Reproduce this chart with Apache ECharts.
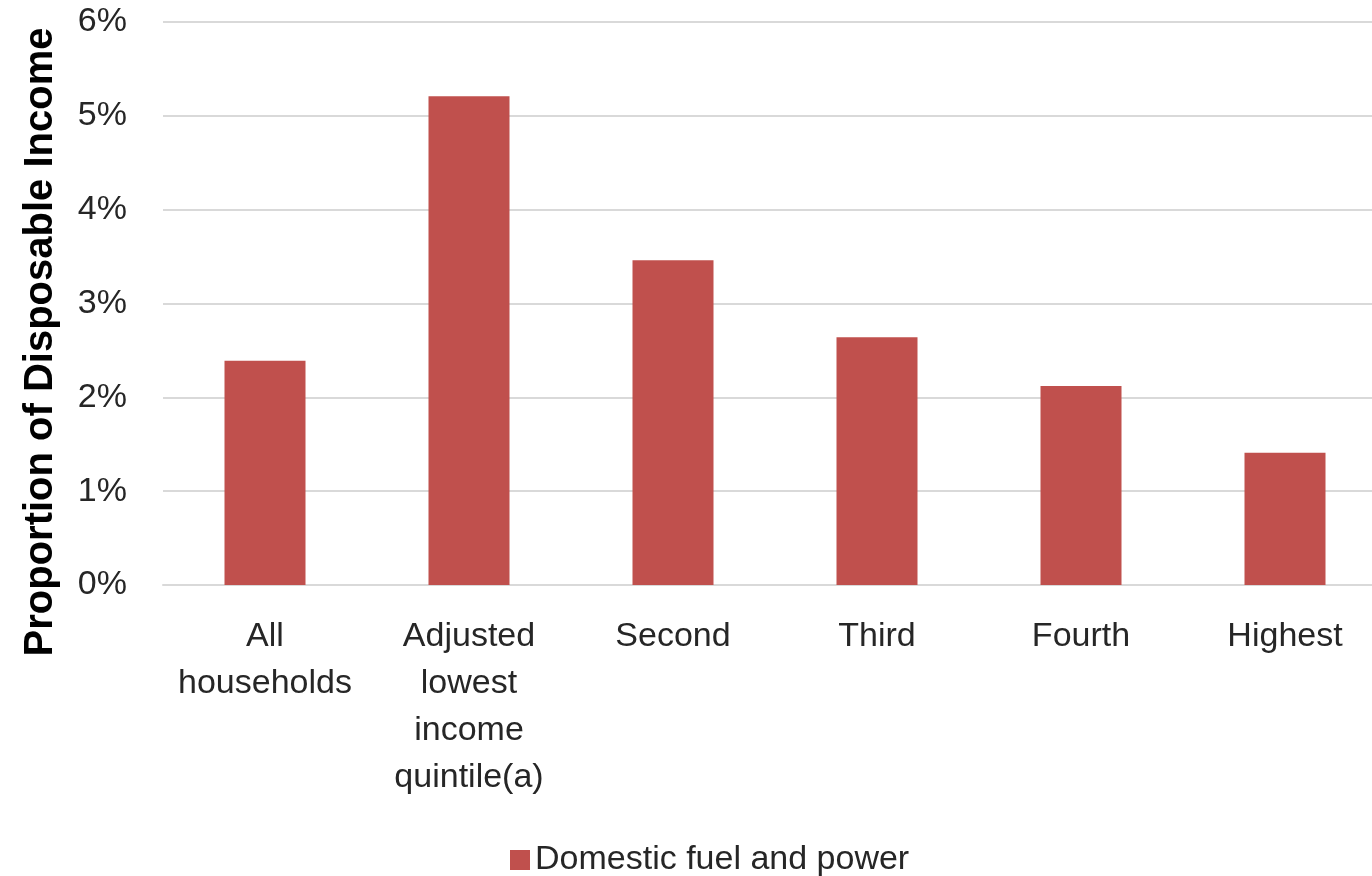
<!DOCTYPE html>
<html lang="en">
<head>
    <meta charset="UTF-8">
    <title>Domestic fuel and power</title>
    <style>
        html,body{margin:0;padding:0;background:#fff;overflow:hidden;}
        #main{width:1387px;height:876px;}
    </style>
</head>
<body>
<div id="main"></div>
<script src="https://cdn.jsdelivr.net/npm/echarts@6/dist/echarts.min.js"></script>
<script>
    const categories=['All\nhouseholds','Adjusted\nlowest\nincome\nquintile(a)','Second','Third','Fourth','Highest']
    const values=[2.39,5.21,3.46,2.64,2.12,1.41]
    const seriesName='Domestic fuel and power'
    const axisTitle='Proportion of Disposable Income'

    const myChart=echarts.init(document.getElementById('main'))
    const font='"Liberation Sans", Arial, sans-serif'

    // chart is a bit wider than the window: the last category runs off the right edge
    const option={
        animation:false,
        grid:{left:163,right:0,top:22,bottom:291},
        legend:{
            left:505,
            top:838,
            itemWidth:20,
            itemHeight:20,
            itemGap:10,
            icon:'rect',
            textStyle:{fontFamily:font,fontSize:34,color:'#262626'},
            data:[seriesName]
        },
        graphic:[{
            type:'text',
            x:41,
            y:342,
            rotation:Math.PI/2,
            style:{
                text:axisTitle,
                fontFamily:font,
                fontSize:40,
                fontWeight:'bold',
                fill:'#000',
                textAlign:'center',
                textVerticalAlign:'middle'
            }
        }],
        xAxis:{
            type:'category',
            data:categories,
            axisLine:{lineStyle:{color:'#d9d9d9',width:2}},
            axisTick:{show:false},
            axisLabel:{
                interval:0,
                margin:28,
                fontFamily:font,
                fontSize:34,
                lineHeight:47,
                color:'#262626'
            }
        },
        yAxis:{
            type:'value',
            min:0,
            max:6,
            interval:1,
            axisLine:{show:false},
            axisTick:{show:false},
            splitLine:{lineStyle:{color:'#d9d9d9',width:2}},
            axisLabel:{
                margin:36,
                padding:[8,0,0,0],
                fontFamily:font,
                fontSize:34,
                color:'#262626',
                formatter:v=>v+'%'
            }
        },
        series:[{
            name:seriesName,
            type:'bar',
            data:values,
            barWidth:81,
            itemStyle:{color:'#c0504d'}
        }]
    }

    myChart.setOption(option)
</script>
</body>
</html>
